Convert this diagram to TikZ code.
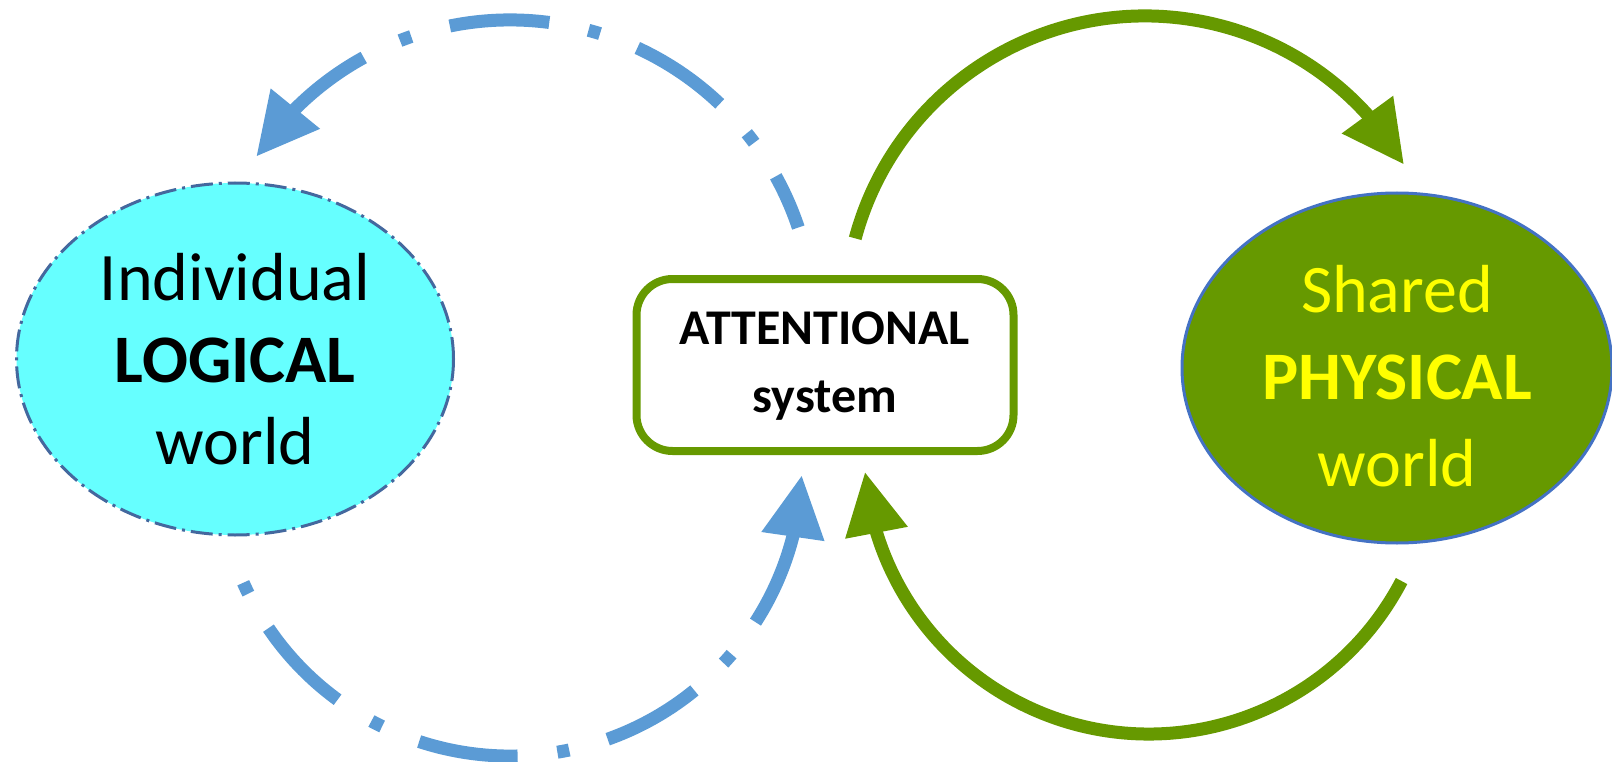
\documentclass[tikz,border=0pt]{standalone}
\usepackage{fontspec}
\setmainfont{Carlito}
\usepackage{tikz}
\usetikzlibrary{arrows.meta,bending}
\usetikzlibrary{shapes.geometric}
\definecolor{b1}{HTML}{5B9BD5}
\definecolor{b2}{HTML}{44689E}
\definecolor{b3}{HTML}{4472C4}
\definecolor{c1}{HTML}{66FFFF}
\definecolor{g1}{HTML}{669900}
\definecolor{y1}{HTML}{FFFF00}
\newcommand\topstrut{\rule{0pt}{64pt}}
\tikzstyle{world}=[ellipse,inner sep=0pt,line width=3pt,align=center]
\tikzstyle{logical world}=[world,fill=c1,draw=b2,minimum width=437pt,minimum height=352pt,
  dash pattern=on 22pt off 6pt on 3pt off 6pt,font=\fontsize{68}{82}\selectfont]
\tikzstyle{physical world}=[world,fill=g1,draw=b3,text=y1,minimum width=430pt,minimum height=350pt,
  font=\fontsize{68}{87}\selectfont]
\tikzstyle{attention}=[rectangle,rounded corners=36pt,draw=g1,line width=8pt,
  minimum width=377pt,minimum height=172pt,inner sep=0pt,
  font=\bfseries\fontsize{50}{68}\selectfont]
\tikzstyle{flow tip}=[-{Triangle[length=62pt,width=60pt]}]
\tikzstyle{blue flow}=[flow tip,b1,line width=13pt,dash pattern=on 100pt off 40pt on 12pt off 40pt]
\tikzstyle{green flow}=[flow tip,g1,line width=13pt]

\begin{document}
\begin{tikzpicture}[x=1pt,y=1pt]
  \useasboundingbox (0,0) rectangle (1612,-762);
  \node[logical world] (logic) at (235,-359) {Individual\\\textbf{LOGICAL}\\world};
  \node[attention] (att) at (825,-365)
    {\raisebox{-11pt}{\begin{tabular}{@{}c@{}}ATTENTIONAL\\system\end{tabular}}};
  \node[physical world] (phys) at (1397,-368) {\topstrut Shared\\\textbf{PHYSICAL}\\world};
  % centres of the four loops
  \coordinate (bc1) at (510,-324);
  \coordinate (bc2) at (510,-464);
  \coordinate (gc1) at (1145,-316);
  \coordinate (gc2) at (1149,-449);
  \draw[blue flow,dash phase=44pt] ([shift={(18.5:304pt)}]bc1) arc (18.5:146.6:304pt);
  \draw[blue flow,dash phase=140pt] ([shift={(204:292pt)}]bc2) arc (204:357.8:292pt);
  \draw[green flow] ([shift={(165:300pt)}]gc1) arc (165:30.3:300pt);
  \draw[green flow] ([shift={(-27.6:285pt)}]gc2) arc (-27.6:-175.4:285pt);
\end{tikzpicture}
\end{document}
